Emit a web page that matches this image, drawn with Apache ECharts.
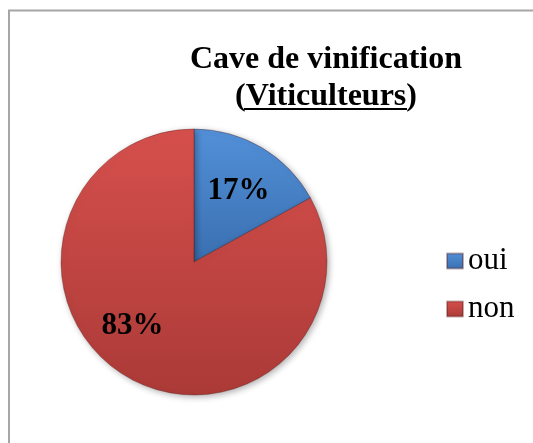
<!DOCTYPE html>
<html>
<head>
<meta charset="utf-8">
<title>Cave de vinification</title>
<script src="https://cdn.jsdelivr.net/npm/echarts@6/dist/echarts.min.js"></script>
<style>
  html, body { margin: 0; padding: 0; background: #fff; }
  #chart { width: 533px; height: 443px; }
</style>
</head>
<body>
<div id="chart"></div>
<script>
// data
const categories = ['oui', 'non']
const values = [17, 83]

const serif = 'Liberation Serif, Times New Roman, serif'
// per-slice look: gradient stops and label nudges (Excel puts them off the mid radius)
const sliceColors = [
  ['#5290d8', '#3a6fb0'],
  ['#d6504d', '#ab3a37']
]
const labelShift = [[9, -11], [-26, 4]]

const chart = echarts.init(document.getElementById('chart'))

chart.setOption({
  backgroundColor: '#ffffff',
  animation: false,
  title: {
    text: '{a|Cave de vinification}\n{a|(}{a|Viticulteurs}{a|)}',
    left: 321,
    top: 36,
    textAlign: 'center',
    textStyle: {
      rich: {
        a: {
          fontFamily: serif,
          fontSize: 32,
          fontWeight: 'bold',
          color: '#000',
          lineHeight: 37
        }
      }
    }
  },
  legend: {
    orient: 'vertical',
    left: 446,
    top: 245,
    padding: 0,
    itemWidth: 16,
    itemHeight: 15,
    itemGap: 16,
    icon: 'rect',
    textStyle: {
      fontFamily: serif,
      fontSize: 31,
      color: '#000',
      lineHeight: 32
    },
    data: categories
  },
  graphic: [
    {
      type: 'rect',
      silent: true,
      shape: { x: 9, y: 10.5, width: 560, height: 480 },
      style: { fill: 'none', stroke: '#a6a6a6', lineWidth: 2 }
    },
    {
      type: 'line',
      silent: true,
      shape: { x1: 244, y1: 109, x2: 407, y2: 109 },
      style: { stroke: '#000', lineWidth: 2 }
    }
  ],
  series: [{
    type: 'pie',
    center: [194, 262],
    radius: 133,
    startAngle: 90,
    clockwise: true,
    silent: true,
    itemStyle: {
      borderColor: 'rgba(80,20,20,0.35)',
      borderWidth: 1,
      shadowBlur: 6,
      shadowColor: 'rgba(0,0,0,0.3)',
      shadowOffsetX: 2,
      shadowOffsetY: 2
    },
    label: {
      show: true,
      position: 'inside',
      formatter: '{d}%',
      fontFamily: serif,
      fontSize: 31,
      fontWeight: 'bold',
      color: '#000'
    },
    labelLine: { show: false },
    data: categories.map((name, i) => ({
      name: name,
      value: values[i],
      label: { offset: labelShift[i] },
      itemStyle: {
        color: new echarts.graphic.LinearGradient(0, 0, 0, 1, [
          { offset: 0, color: sliceColors[i][0] },
          { offset: 1, color: sliceColors[i][1] }
        ])
      }
    }))
  }]
})
</script>
</body>
</html>
